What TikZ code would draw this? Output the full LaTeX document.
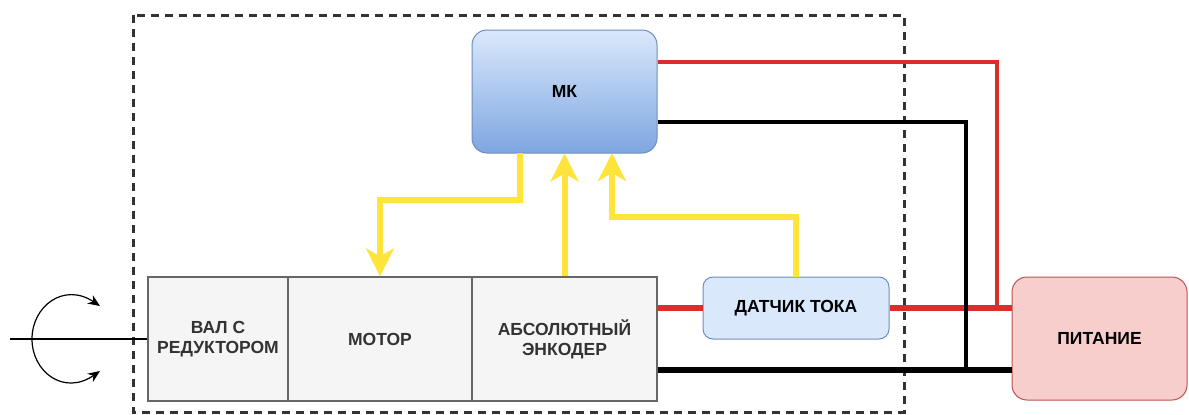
\documentclass[tikz,border=0pt]{standalone}
\usepackage{fontspec}
\setmainfont{Liberation Sans}
\usetikzlibrary{arrows.meta,calc}
\definecolor{frame}{HTML}{333333}
\definecolor{grayfill}{HTML}{F5F5F5}
\definecolor{graystroke}{HTML}{666666}
\definecolor{bluefill}{HTML}{DAE8FC}
\definecolor{bluedark}{HTML}{7EA6E0}
\definecolor{bluestroke}{HTML}{6C8EBF}
\definecolor{redfill}{HTML}{F8CECC}
\definecolor{redstroke}{HTML}{B85450}
\definecolor{wirered}{HTML}{DC2D2D}
\definecolor{sigyellow}{RGB}{255,228,60}
\definecolor{txtgray}{HTML}{333333}
\tikzset{
  lbl/.style={font=\fontsize{17.5}{20}\selectfont\bfseries, align=center},
  cell/.style={lbl, draw=graystroke, fill=grayfill, line width=1.2pt, text=txtgray, inner sep=0pt},
  mkbox/.style={lbl, draw=bluestroke, line width=1pt, rounded corners=15pt, top color=bluefill, bottom color=bluedark, inner sep=0pt},
  sensbox/.style={lbl, draw=bluestroke, fill=bluefill, line width=1pt, rounded corners=10pt, inner sep=0pt},
  powbox/.style={lbl, draw=redstroke, fill=redfill, line width=1pt, rounded corners=15pt, inner sep=0pt},
  framebox/.style={draw=frame, line width=3pt, dash pattern=on 8pt off 6pt},
  sig/.style={draw=sigyellow, line width=6pt, -{Stealth[length=28pt,width=28pt,inset=8pt]}},
  redthick/.style={draw=wirered, line width=6pt},
  redthin/.style={draw=wirered, line width=4pt},
  blkthick/.style={draw=black, line width=6pt},
  blkthin/.style={draw=black, line width=4pt},
  shaft/.style={draw=black, line width=1.2pt},
}
\begin{document}
\begin{tikzpicture}[x=1pt,y=-1pt]
\useasboundingbox (0,0) rectangle (1189,415);
% dashed boundary
\draw[framebox] (133,15) rectangle (904,412);
% nodes
\node[mkbox, minimum width=185pt, minimum height=123pt] (mk) at (564.5,91.5) {МК};
\node[cell, minimum width=140pt, minimum height=124pt] (val) at (218,339) {ВАЛ С\\РЕДУКТОРОМ};
\node[cell, minimum width=184pt, minimum height=124pt] (motor) at (380,339) {МОТОР};
\node[cell, minimum width=185pt, minimum height=124pt] (enc) at (564.5,339) {АБСОЛЮТНЫЙ\\ЭНКОДЕР};
\node[sensbox, minimum width=186pt, minimum height=62pt] (dt) at (796,308) {ДАТЧИК ТОКА};
\node[powbox, minimum width=175pt, minimum height=123pt] (pit) at (1099.5,338.5) {ПИТАНИЕ};
% junction coordinates
\coordinate (rj) at (997,308);
\coordinate (bj) at (966,370);
\coordinate (shaftend) at (10,339);
\coordinate (rotA) at (100,306);
\coordinate (rotB) at (100,371);
% power wires
\draw[redthick] (enc.east |- dt.west) -- (dt.west);
\draw[redthick] (dt.east) -- (pit.west |- dt.east);
\draw[blkthick] (enc.east |- bj) -- (pit.west |- bj);
\draw[redthin] ([yshift=29.5pt]mk.east) -| (rj);
\draw[blkthin] ([yshift=-30.5pt]mk.east) -| (bj);
% signals
\draw[sig] (520,153) -- (520,200) -- (380,200) -- (motor.north);
\draw[sig] (enc.north) -- (enc.north |- mk.south);
\draw[sig] (dt.north) -- (796,217) -- (612,217) -- (612,153);
% shaft and rotation
\draw[shaft] (shaftend) -- (val.west);
\draw[shaft, {Stealth[length=12pt,width=10pt]}-{Stealth[length=12pt,width=10pt]}] (rotA) .. controls (64,282) and (32,306) .. (32,339) .. controls (32,372) and (64,396) .. (rotB);
\end{tikzpicture}
\end{document}
